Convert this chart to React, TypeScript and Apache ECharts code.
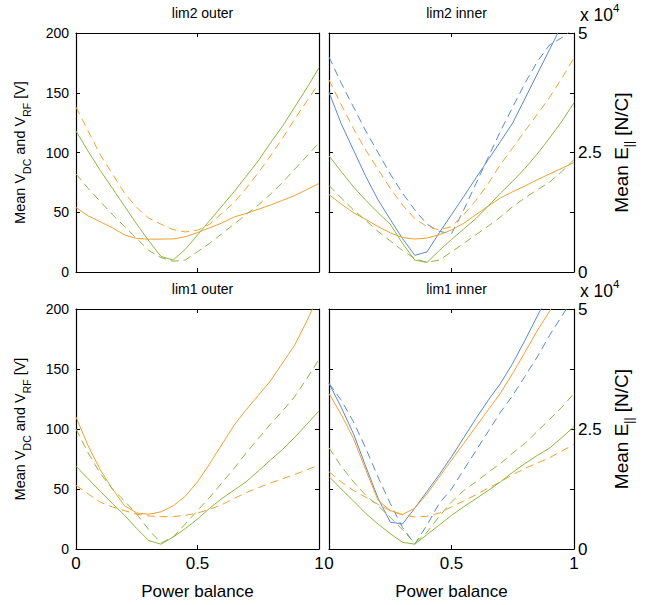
import React, { useEffect, useRef } from 'react';
import * as echarts from 'echarts';

// Power balance (x axis)
const balance = [0, 0.05, 0.1, 0.15, 0.2, 0.25, 0.3, 0.35, 0.4, 0.45, 0.5, 0.55, 0.6, 0.65, 0.7, 0.75, 0.8, 0.85, 0.9, 0.95, 1];

const panelTitles = ['lim2 outer', 'lim2 inner', 'lim1 outer', 'lim1 inner'];
const xTickLabels = ['0', '0.5', '1'];
const voltTicks = [0, 50, 100, 150, 200];
const fieldTickLabels = ['0', '2.5', '5']; // x 10^4 N/C

// lim2 outer  [V]
const tlOrangeSolid = [54, 47, 42, 37, 31, 28, 27.5, 27.5, 27.7, 29.5, 33, 37, 41, 46, 49, 52.5, 56, 60, 64, 69, 74];
const tlOrangeDash = [138, 118, 98, 82, 66, 54, 45, 40, 35.5, 33.5, 35, 40, 49, 58, 70, 83, 97, 112, 128, 143, 158];
const tlGreenSolid = [118, 101, 85, 70, 55, 40, 26, 13, 10, 19, 31, 43, 55, 67, 80, 93, 108, 122, 138, 154, 171];
const tlGreenDash = [82, 70, 59, 48, 38, 28, 18, 12, 9, 10, 17, 24, 32, 40, 48, 56, 65, 75, 86, 97, 108];

// lim2 inner  [x10^4 N/C]
const trBlueSolid = [3.76, 3.1, 2.55, 2.0, 1.51, 1.1, 0.7, 0.35, 0.42, 0.82, 1.2, 1.58, 1.97, 2.35, 2.73, 3.12, 3.63, 4.14, 4.65, 5.16, 5.7];
const trBlueDash = [4.5, 3.95, 3.45, 2.95, 2.5, 2.05, 1.65, 1.3, 1.0, 0.85, 0.8, 1.3, 1.85, 2.4, 2.95, 3.45, 3.95, 4.4, 4.75, 4.9, 5.1];
const trOrangeSolid = [1.62, 1.42, 1.24, 1.1, 0.95, 0.82, 0.72, 0.69, 0.71, 0.78, 0.88, 1.02, 1.2, 1.38, 1.55, 1.68, 1.8, 1.93, 2.05, 2.17, 2.29];
const trOrangeDash = [4.02, 3.5, 3.0, 2.55, 2.15, 1.75, 1.4, 1.12, 0.95, 0.88, 0.95, 1.2, 1.5, 1.85, 2.25, 2.6, 2.95, 3.3, 3.65, 4.05, 4.48];
const trGreenSolid = [2.43, 2.1, 1.78, 1.5, 1.24, 1.0, 0.6, 0.25, 0.2, 0.45, 0.68, 0.9, 1.12, 1.38, 1.65, 1.9, 2.17, 2.47, 2.8, 3.15, 3.54];
const trGreenDash = [1.81, 1.55, 1.3, 1.08, 0.85, 0.65, 0.45, 0.28, 0.2, 0.25, 0.42, 0.6, 0.78, 0.96, 1.15, 1.37, 1.55, 1.72, 1.88, 2.1, 2.35];

// lim1 outer  [V]
const blOrangeSolid = [110, 86, 66, 50, 36, 30, 29, 31, 36, 44, 56, 71, 87, 103, 116, 128, 140, 155, 170, 190, 212];
const blOrangeDash = [53, 46, 39, 35, 32, 29, 27.5, 27, 27, 28, 30, 33, 37, 42, 47, 51, 55, 58.5, 62, 66, 70];
const blGreenSolid = [69, 58.5, 48, 38, 28, 17, 7, 4, 10, 17, 25, 34, 42, 49, 56, 65, 74, 83, 93, 104, 115];
const blGreenDash = [100, 80, 63, 50, 40, 29, 16, 5, 10, 21, 32, 43, 55, 67, 80, 92, 104, 115, 127, 142, 158];

// lim1 inner  [x10^4 N/C]
const brBlueSolid = [3.45, 2.95, 2.4, 1.72, 1.06, 0.56, 0.52, 0.85, 1.2, 1.55, 1.92, 2.32, 2.72, 3.1, 3.45, 3.87, 4.35, 4.85, 5.35, 5.9, 6.4];
const brBlueDash = [3.45, 3.1, 2.65, 2.1, 1.5, 0.95, 0.45, 0.1, 0.5, 0.95, 1.25, 1.65, 2.05, 2.45, 2.85, 3.2, 3.6, 4.0, 4.45, 4.85, 5.25];
const brOrangeSolid = [3.24, 2.8, 2.3, 1.65, 1.02, 0.8, 0.72, 0.85, 1.15, 1.5, 1.85, 2.2, 2.55, 2.9, 3.25, 3.66, 4.1, 4.55, 4.95, 5.4, 5.8];
const brOrangeDash = [1.61, 1.4, 1.22, 1.08, 0.93, 0.8, 0.71, 0.67, 0.68, 0.75, 0.88, 1.0, 1.13, 1.27, 1.4, 1.55, 1.68, 1.79, 1.9, 2.04, 2.18];
const brGreenSolid = [1.51, 1.25, 1.0, 0.74, 0.52, 0.32, 0.14, 0.1, 0.3, 0.5, 0.7, 0.88, 1.05, 1.22, 1.4, 1.6, 1.78, 1.95, 2.1, 2.32, 2.55];
const brGreenDash = [2.11, 1.72, 1.4, 1.12, 0.9, 0.66, 0.4, 0.12, 0.35, 0.68, 0.98, 1.22, 1.4, 1.6, 1.78, 2.0, 2.2, 2.45, 2.7, 2.95, 3.24];

const BLUE = '#5b88cc';
const ORANGE = '#f0a032';
const GREEN = '#8cb83e';
const FONT = '"Liberation Sans", Arial, sans-serif';

type Spec = { data: number[]; color: string; dashed: boolean };

const panels: Spec[][] = [
  [
    { data: tlOrangeSolid, color: ORANGE, dashed: false },
    { data: tlOrangeDash, color: ORANGE, dashed: true },
    { data: tlGreenSolid, color: GREEN, dashed: false },
    { data: tlGreenDash, color: GREEN, dashed: true },
  ],
  [
    { data: trBlueSolid, color: BLUE, dashed: false },
    { data: trBlueDash, color: BLUE, dashed: true },
    { data: trOrangeSolid, color: ORANGE, dashed: false },
    { data: trOrangeDash, color: ORANGE, dashed: true },
    { data: trGreenSolid, color: GREEN, dashed: false },
    { data: trGreenDash, color: GREEN, dashed: true },
  ],
  [
    { data: blOrangeSolid, color: ORANGE, dashed: false },
    { data: blOrangeDash, color: ORANGE, dashed: true },
    { data: blGreenSolid, color: GREEN, dashed: false },
    { data: blGreenDash, color: GREEN, dashed: true },
  ],
  [
    { data: brBlueSolid, color: BLUE, dashed: false },
    { data: brBlueDash, color: BLUE, dashed: true },
    { data: brOrangeSolid, color: ORANGE, dashed: false },
    { data: brOrangeDash, color: ORANGE, dashed: true },
    { data: brGreenSolid, color: GREEN, dashed: false },
    { data: brGreenDash, color: GREEN, dashed: true },
  ],
];

const grids = [
  { left: 76, top: 33, width: 243, height: 239 },
  { left: 329, top: 33, width: 245, height: 239 },
  { left: 76, top: 309, width: 243, height: 240 },
  { left: 329, top: 309, width: 245, height: 240 },
];

const axisLine = { show: true, onZero: false, lineStyle: { color: '#000', width: 1.2 } };
const axisTick = { show: true, inside: true, length: 4, lineStyle: { color: '#000', width: 1 } };

function buildOption() {
  const xAxis: any[] = [];
  const yAxis: any[] = [];
  const series: any[] = [];
  const title: any[] = [];

  grids.forEach((g, i) => {
    const bottomRow = i >= 2;
    const rightCol = i % 2 === 1;
    xAxis.push({
      type: 'value', gridIndex: i, min: 0, max: 1, interval: 0.5, position: 'bottom',
      axisLine, axisTick, splitLine: { show: false },
      axisLabel: {
        show: bottomRow, color: '#000', fontSize: 17, fontFamily: FONT, margin: 6,
        formatter: (v: number) => (v === 0 ? xTickLabels[0] : v === 0.5 ? xTickLabels[1] : xTickLabels[2]),
      },
      name: bottomRow ? 'Power balance' : '', nameLocation: 'middle', nameGap: 34,
      nameTextStyle: { color: '#000', fontSize: 17, fontFamily: FONT },
    });
    xAxis.push({
      type: 'value', gridIndex: i, min: 0, max: 1, interval: 0.5, position: 'top',
      axisLine, axisTick, axisLabel: { show: false }, splitLine: { show: false },
    });
    const leftName = '{a|Mean V}{s|DC}{a| and V}{s|RF}{a| [V]}';
    const richLeft = {
      a: { fontSize: 14.5, fontFamily: FONT, color: '#000', fontWeight: 'normal', lineHeight: 24, verticalAlign: 'middle' },
      s: { fontSize: 10.5, fontFamily: FONT, color: '#000', fontWeight: 'normal', lineHeight: 24, verticalAlign: 'bottom' },
    };
    const richRight = {
      a: { fontSize: 19, fontFamily: FONT, color: '#000', fontWeight: 'normal', lineHeight: 28, verticalAlign: 'middle' },
      s: { fontSize: 12, fontFamily: FONT, color: '#000', fontWeight: 'normal', lineHeight: 28, verticalAlign: 'bottom' },
    };
    if (!rightCol) {
      yAxis.push({
        type: 'value', gridIndex: i, min: 0, max: 200, interval: 50, position: 'left',
        axisLine, axisTick, splitLine: { show: false },
        axisLabel: { color: '#000', fontSize: 14, fontFamily: FONT, margin: 7,
          formatter: (v: number) => String(voltTicks[Math.round(v / 50)]) },
        name: leftName, nameLocation: 'middle', nameGap: 44, nameRotate: 90,
        nameTextStyle: { fontSize: 14.5, fontFamily: FONT, rich: richLeft },
      });
      yAxis.push({
        type: 'value', gridIndex: i, min: 0, max: 200, interval: 50, position: 'right',
        axisLine, axisTick, axisLabel: { show: false }, splitLine: { show: false },
      });
    } else {
      yAxis.push({
        type: 'value', gridIndex: i, min: 0, max: 5, interval: 1.25, position: 'left',
        axisLine, axisTick, axisLabel: { show: false }, splitLine: { show: false },
      });
      yAxis.push({
        type: 'value', gridIndex: i, min: 0, max: 5, interval: 1.25, position: 'right',
        axisLine, axisTick, splitLine: { show: false },
        axisLabel: { color: '#000', fontSize: 17, fontFamily: FONT, margin: 4,
          formatter: (v: number) => (v === 0 ? fieldTickLabels[0] : v === 2.5 ? fieldTickLabels[1] : v === 5 ? fieldTickLabels[2] : '') },
        name: '{a|Mean E}{s|||}{a| [N/C]}', nameLocation: 'middle', nameGap: 33, nameRotate: 90,
        nameTextStyle: { fontSize: 19, fontFamily: FONT, rich: richRight },
      });
      title.push({
        text: '{a|x 10}{p|4}', left: 575, top: g.top - 36,
        textStyle: { fontWeight: 'normal', rich: {
          a: { fontSize: 17.5, fontFamily: FONT, color: '#000', fontWeight: 'normal', lineHeight: 22, verticalAlign: 'bottom' },
          p: { fontSize: 11.5, fontFamily: FONT, color: '#000', fontWeight: 'normal', lineHeight: 22, verticalAlign: 'top' },
        } },
      });
    }
    title.push({
      text: panelTitles[i], left: g.left + g.width / 2, top: g.top - 32, textAlign: 'center',
      textStyle: { fontSize: 14, fontWeight: 'normal', fontFamily: FONT, color: '#000' },
    });
    panels[i].forEach((s) => {
      series.push({
        type: 'line', xAxisIndex: 2 * i, yAxisIndex: rightCol ? 2 * i + 1 : 2 * i,
        data: balance.map((x, k) => [x, s.data[k]]),
        showSymbol: false, symbol: 'none', clip: true, silent: true,
        lineStyle: { color: s.color, width: 1, type: s.dashed ? [8, 5] : 'solid' },
      });
    });
  });

  return {
    animation: false,
    backgroundColor: '#fff',
    title,
    grid: grids.map((g) => ({ ...g, containLabel: false })),
    xAxis,
    yAxis,
    series,
  };
}

export default function App() {
  const ref = useRef<HTMLDivElement>(null);
  useEffect(() => {
    if (!ref.current) return;
    const chart = echarts.init(ref.current, undefined, { renderer: 'svg' });
    chart.setOption(buildOption() as any);
    return () => chart.dispose();
  }, []);
  return <div ref={ref} style={{ position: 'fixed', left: 0, top: 0, width: 653, height: 605 }} />;
}
